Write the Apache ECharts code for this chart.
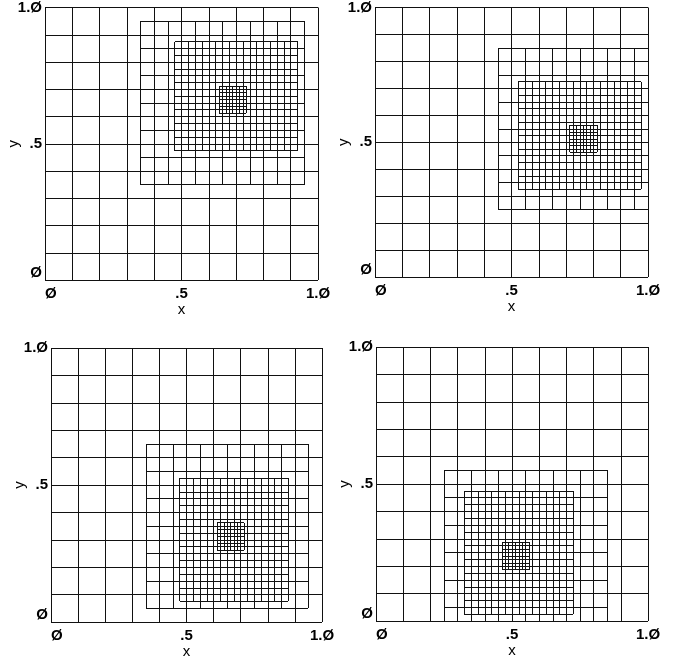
<!DOCTYPE html>
<html>
<head>
<meta charset="utf-8">
<script src="https://cdn.jsdelivr.net/npm/echarts@6/dist/echarts.min.js"></script>
<style>
  html, body { margin: 0; padding: 0; background: #fff; }
  #chart { width: 673px; height: 661px; }
</style>
</head>
<body>
<div id="chart"></div>
<script>
// tick labels (slashed zeros as printed)
const tickValues = [0, 0.5, 1];
const tickLabels = ['Ø', '.5', '1.Ø'];

// coarse mesh spacing and the spacing of each refinement level
const coarseStep = 0.1;
const levelSteps = [0.05, 0.025, 0.0125];

// refined patches per panel: [xmin, xmax, ymin, ymax] for level 1, 2, 3
const patchesA = [[0.35, 0.95, 0.35, 0.95], [0.475, 0.925, 0.475, 0.875], [0.6375, 0.7375, 0.6125, 0.7125]];
const patchesB = [[0.45, 1.0, 0.25, 0.85], [0.525, 0.975, 0.325, 0.725], [0.7125, 0.8125, 0.4625, 0.5625]];
const patchesC = [[0.35, 0.95, 0.05, 0.65], [0.475, 0.875, 0.075, 0.525], [0.6125, 0.7125, 0.2625, 0.3625]];
const patchesD = [[0.25, 0.85, 0.0, 0.55], [0.325, 0.725, 0.025, 0.475], [0.4625, 0.5625, 0.1875, 0.2875]];

const panels = [patchesA, patchesB, patchesC, patchesD];

// grid boxes (pixels)
const boxes = [
  { left: 45, top: 6, width: 273, height: 274 },
  { left: 375, top: 4, width: 273, height: 273 },
  { left: 51, top: 348, width: 271, height: 274 },
  { left: 376, top: 347, width: 272, height: 274 }
];

const font = { fontFamily: 'Liberation Sans', fontSize: 15, fontWeight: 'bold', color: '#000' };
const ink = '#111';

function tickText(v) {
  for (let i = 0; i < tickValues.length; i++) {
    if (Math.abs(v - tickValues[i]) < 1e-9) return tickLabels[i];
  }
  return '';
}

// mesh lines of one patch, as segments [x1, y1, x2, y2]
function patchSegments(p, h) {
  const segs = [];
  const nx = Math.round((p[1] - p[0]) / h);
  const ny = Math.round((p[3] - p[2]) / h);
  for (let i = 0; i <= nx; i++) {
    const x = p[0] + i * h;
    segs.push([x, p[2], x, p[3]]);
  }
  for (let j = 0; j <= ny; j++) {
    const y = p[2] + j * h;
    segs.push([p[0], y, p[1], y]);
  }
  return segs;
}

function snap(v) {
  const d = Math.round(v * 2);
  return d % 2 === 1 || d % 2 === -1 ? d / 2 : (d + 1) / 2;
}

function renderSeg(params, api) {
  const a = api.coord([api.value(0), api.value(1)]);
  const b = api.coord([api.value(2), api.value(3)]);
  let x1 = a[0], y1 = a[1], x2 = b[0], y2 = b[1];
  if (Math.abs(x1 - x2) < 0.01) { x1 = x2 = snap(x1); y1 = Math.round(y1); y2 = Math.round(y2); }
  else { y1 = y2 = snap(y1); x1 = Math.round(x1); x2 = Math.round(x2); }
  return {
    type: 'line',
    shape: { x1: x1, y1: y1, x2: x2, y2: y2 },
    style: { stroke: ink, lineWidth: 1 }
  };
}

const grid = [], xAxis = [], yAxis = [], series = [];
panels.forEach(function (patches, k) {
  grid.push(boxes[k]);
  xAxis.push({
    type: 'value', gridIndex: k, min: 0, max: 1, interval: coarseStep,
    name: 'x', nameLocation: 'middle', nameGap: 22, nameMoveOverlap: false,
    nameTextStyle: Object.assign({}, font, { fontWeight: 'normal' }),
    axisLine: { show: false }, axisTick: { show: false },
    axisLabel: Object.assign({ formatter: tickText, margin: 6, alignMinLabel: 'left' }, font),
    splitLine: { show: true, lineStyle: { color: ink, width: 1 } }
  });
  yAxis.push({
    type: 'value', gridIndex: k, min: 0, max: 1, interval: coarseStep,
    name: 'y', nameLocation: 'middle', nameGap: 24, nameRotate: 90, nameMoveOverlap: false,
    nameTextStyle: Object.assign({}, font, { fontWeight: 'normal' }),
    axisLine: { show: false }, axisTick: { show: false },
    axisLabel: Object.assign({ formatter: tickText, margin: 3, verticalAlignMinLabel: 'bottom' }, font),
    splitLine: { show: true, lineStyle: { color: ink, width: 1 } }
  });
  let segs = [];
  patches.forEach(function (p, lvl) {
    segs = segs.concat(patchSegments(p, levelSteps[lvl]));
  });
  series.push({
    type: 'custom', xAxisIndex: k, yAxisIndex: k,
    renderItem: renderSeg,
    encode: { x: [0, 2], y: [1, 3] },
    data: segs,
    silent: true
  });
});

const chart = echarts.init(document.getElementById('chart'));
chart.setOption({
  animation: false,
  backgroundColor: '#fff',
  grid: grid,
  xAxis: xAxis,
  yAxis: yAxis,
  series: series
});
</script>
</body>
</html>
